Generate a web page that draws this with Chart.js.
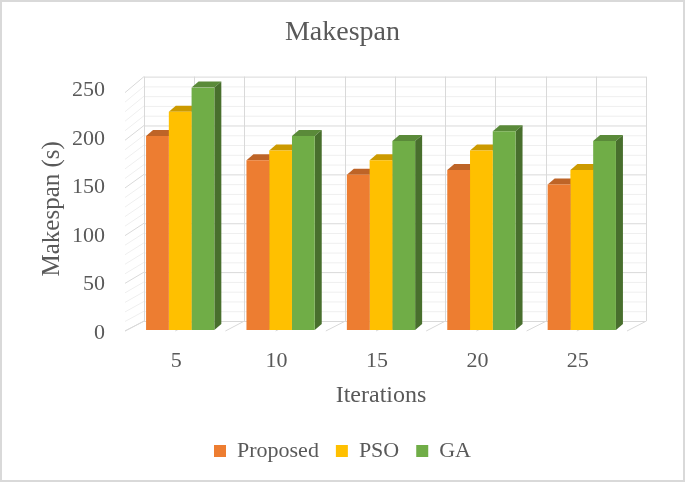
<!DOCTYPE html>
<html>
<head>
<meta charset="utf-8">
<script src="https://cdn.jsdelivr.net/npm/chart.js@4.4.1/dist/chart.umd.min.js"></script>
<style>
  body { margin: 0; background: #fff; }
  #wrap { width: 685px; height: 482px; }
</style>
</head>
<body>
<div id="wrap"><canvas id="makespan-canvas" width="685" height="482"></canvas></div>
<script>
const iterations = ["5", "10", "15", "20", "25"];
const proposed_span = [200, 175, 160, 165, 150];
const pso_span = [225, 185, 175, 185, 165];
const ga_span = [250, 200, 195, 205, 195];
const y_ticks = [0, 50, 100, 150, 200, 250];

const text_color = "#595959";
const serif = "'Liberation Serif', 'Times New Roman', serif";

// darken a hex colour for the top / side faces
const shade = (hex, f) => {
  const n = parseInt(hex.slice(1), 16);
  const r = Math.round(((n >> 16) & 255) * f);
  const g = Math.round(((n >> 8) & 255) * f);
  const b = Math.round((n & 255) * f);
  return `rgb(${r},${g},${b})`;
};

// walls, floor and 3d faces of the bars, drawn before the front faces
const fakeDepth = {
  id: "fakeDepth",
  beforeDatasetsDraw(chart) {
    const { ctx, chartArea } = chart;
    const y = chart.scales.y;
    const top_val = y_ticks[y_ticks.length - 1];
    const front_left = chartArea.left - 5;
    const back_left = chartArea.left + 14;
    const w = chartArea.right - chartArea.left;
    const frontY = (v) => y.getPixelForValue(v) + 1 + (4 * v) / top_val;
    const backY = (v) => y.getPixelForValue(v) - 9 - (2 * v) / top_val;

    ctx.save();
    ctx.lineWidth = 1;
    // minor then major lines
    for (let v = 0; v <= top_val; v += 10) {
      const major = v % 50 == 0;
      ctx.strokeStyle = major ? "#d9d9d9" : "#efefef";
      ctx.beginPath();
      ctx.moveTo(back_left, backY(v) + 0.5);
      ctx.lineTo(back_left + w, backY(v) + 0.5);
      ctx.moveTo(front_left, frontY(v));
      ctx.lineTo(back_left, backY(v));
      ctx.stroke();
    }
    ctx.strokeStyle = "#d9d9d9";
    const steps = iterations.length * 2;
    for (let k = 0; k <= steps; k++) {
      const bx = Math.round(back_left + (k * w) / steps) + 0.5;
      const fx = front_left + (k * w) / steps;
      ctx.beginPath();
      ctx.moveTo(bx, backY(0));
      ctx.lineTo(bx, backY(top_val));
      ctx.moveTo(fx, frontY(0));
      ctx.lineTo(bx, backY(0));
      ctx.stroke();
    }

    const dx = 7;
    const dy = 6;
    chart.data.datasets.forEach((ds, i) => {
      const meta = chart.getDatasetMeta(i);
      meta.data.forEach((bar) => {
        const half = bar.width / 2;
        const l = bar.x - half;
        const r = bar.x + half;
        ctx.fillStyle = shade(ds.backgroundColor, 0.8);
        ctx.beginPath();
        ctx.moveTo(l, bar.y);
        ctx.lineTo(l + dx, bar.y - dy);
        ctx.lineTo(r + dx, bar.y - dy);
        ctx.lineTo(r, bar.y);
        ctx.closePath();
        ctx.fill();
        ctx.fillStyle = shade(ds.backgroundColor, 0.64);
        ctx.beginPath();
        ctx.moveTo(r, bar.y);
        ctx.lineTo(r + dx, bar.y - dy);
        ctx.lineTo(r + dx, bar.base - dy);
        ctx.lineTo(r, bar.base);
        ctx.closePath();
        ctx.fill();
      });
    });
    ctx.restore();
  },
  afterDraw(chart) {
    const { ctx, width, height } = chart;
    ctx.save();
    ctx.strokeStyle = "#d9d9d9";
    ctx.lineWidth = 2;
    ctx.strokeRect(1, 1, width - 2, height - 2);
    ctx.restore();
  },
};

new Chart(document.getElementById("makespan-canvas"), {
  type: "bar",
  data: {
    labels: iterations,
    datasets: [
      { label: "Proposed", data: proposed_span, backgroundColor: "#ED7D31" },
      { label: "PSO", data: pso_span, backgroundColor: "#FFC000" },
      { label: "GA", data: ga_span, backgroundColor: "#70AD47" },
    ],
  },
  options: {
    responsive: false,
    animation: false,
    devicePixelRatio: 1,
    categoryPercentage: 0.68,
    barPercentage: 1.0,
    layout: { padding: { left: 0, right: 0, top: 0, bottom: 10 } },
    plugins: {
      title: {
        display: true,
        text: "Makespan",
        color: text_color,
        font: { family: serif, size: 28, weight: "normal" },
        padding: { top: 16, bottom: 38 },
      },
      legend: {
        position: "bottom",
        onClick: () => {},
        labels: {
          color: text_color,
          font: { family: serif, size: 22 },
          boxWidth: 12,
          boxHeight: 12,
          padding: 17,
        },
      },
      tooltip: { enabled: false },
    },
    scales: {
      x: {
        grid: { display: false },
        border: { display: false },
        ticks: {
          color: text_color,
          font: { family: serif, size: 22 },
          padding: 10,
          labelOffset: -4,
        },
        title: {
          display: true,
          text: "Iterations",
          color: text_color,
          font: { family: serif, size: 24 },
          padding: { top: 0, bottom: 13 },
        },
        afterFit: (scale) => {
          scale.height = 93;
        },
      },
      y: {
        min: 0,
        max: 250,
        grid: { display: false },
        border: { display: false },
        afterBuildTicks: (scale) => {
          scale.ticks = y_ticks.map((value) => ({ value }));
        },
        ticks: {
          color: text_color,
          font: { family: serif, size: 22 },
          padding: 17,
          labelOffset: 3,
        },
        title: {
          display: true,
          text: "Makespan (s)",
          color: text_color,
          font: { family: serif, size: 25 },
          padding: { top: 37, bottom: 0 },
        },
        afterFit: (scale) => {
          scale.width = 130;
        },
      },
      // empty right margin so title and legend center on the full width
      spacer: {
        position: "right",
        grid: { display: false },
        border: { display: false },
        ticks: { display: false },
        afterFit: (scale) => {
          scale.width = 53;
        },
      },
    },
  },
  plugins: [fakeDepth],
});
</script>
</body>
</html>
